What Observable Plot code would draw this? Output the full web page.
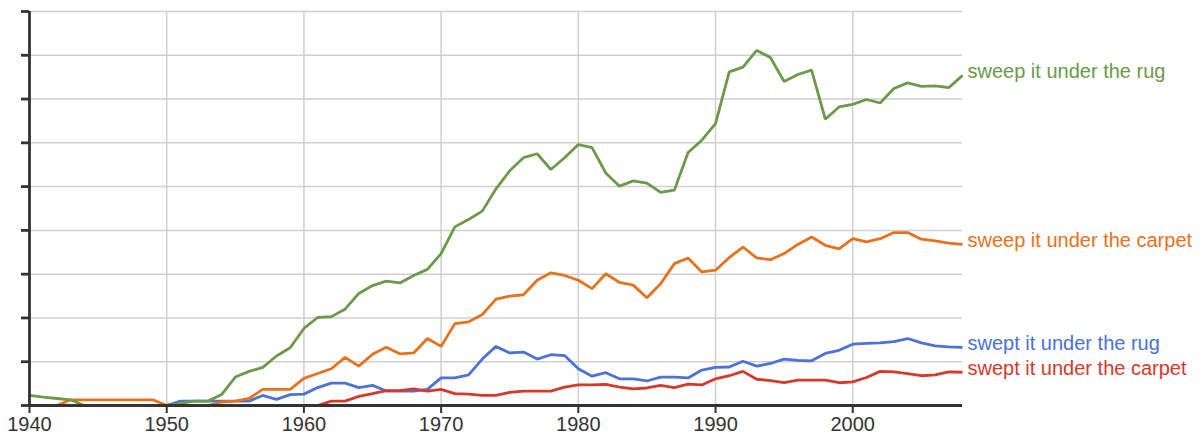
<!DOCTYPE html>
<html>
<head>
<meta charset="utf-8">
<script src="https://cdn.jsdelivr.net/npm/d3@7"></script>
<script src="https://cdn.jsdelivr.net/npm/@observablehq/plot@0.6"></script>
<style>
  html, body { margin: 0; padding: 0; background: #fff; }
  #chart svg { display: block; }
</style>
</head>
<body>
<div id="chart"></div>
<script>
const years = d3.range(1940, 2009);
const seriesNames = ["swept it under the rug", "swept it under the carpet", "sweep it under the carpet", "sweep it under the rug"];
const seriesColors = ["#4a72d8", "#d6382b", "#e8711c", "#6a9a4a"];
const xTicks = [1940, 1950, 1960, 1970, 1980, 1990, 2000];
const yTicks = [0, 1, 2, 3, 4, 5, 6, 7, 8, 9];

const sweepRug = [0.23,0.19,0.16,0.13,0,0,0,0,0,0,
  0,0.05,0.1,0.1,0.25,0.65,0.78,0.87,1.13,1.32,
  1.76,2.01,2.03,2.2,2.56,2.74,2.84,2.8,2.97,3.11,
  3.47,4.08,4.25,4.44,4.95,5.36,5.66,5.75,5.39,5.66,
  5.96,5.89,5.31,5.01,5.13,5.08,4.87,4.92,5.78,6.06,
  6.44,7.62,7.73,8.11,7.95,7.4,7.56,7.66,6.54,6.82,
  6.88,6.99,6.91,7.24,7.37,7.29,7.3,7.26,7.54];
const sweepCarpet = [0,0,0,0.13,0.13,0.13,0.13,0.13,0.13,0.13,
  0,0,0,0,0.08,0.1,0.16,0.37,0.37,0.37,
  0.62,0.73,0.84,1.1,0.9,1.17,1.33,1.18,1.2,1.53,
  1.35,1.87,1.91,2.08,2.43,2.5,2.53,2.86,3.03,2.97,
  2.86,2.67,3.01,2.81,2.75,2.46,2.78,3.24,3.37,3.05,
  3.09,3.38,3.62,3.37,3.33,3.47,3.68,3.85,3.66,3.58,
  3.81,3.74,3.81,3.95,3.95,3.8,3.76,3.71,3.68];
const sweptRug = [0,0,0,0,0,0,0,0,0,0,
  0,0.1,0.1,0.1,0.1,0.1,0.1,0.23,0.14,0.25,
  0.26,0.41,0.51,0.51,0.41,0.46,0.33,0.33,0.33,0.37,
  0.63,0.63,0.7,1.06,1.35,1.2,1.22,1.06,1.16,1.14,
  0.84,0.67,0.75,0.61,0.61,0.56,0.65,0.65,0.63,0.81,
  0.87,0.88,1.01,0.9,0.96,1.06,1.03,1.02,1.19,1.26,
  1.4,1.42,1.43,1.46,1.53,1.43,1.36,1.34,1.33];
const sweptCarpet = [0,0,0,0,0,0,0,0,0,0,
  0,0,0,0,0,0,0,0,0,0,
  0,0,0.1,0.1,0.21,0.27,0.34,0.34,0.38,0.33,
  0.37,0.27,0.26,0.23,0.23,0.3,0.33,0.33,0.33,0.42,
  0.47,0.47,0.48,0.42,0.38,0.4,0.46,0.41,0.49,0.47,
  0.61,0.68,0.78,0.6,0.57,0.52,0.58,0.58,0.58,0.52,
  0.54,0.64,0.78,0.77,0.73,0.68,0.7,0.77,0.76];

const seriesValues = [sweptRug, sweptCarpet, sweepCarpet, sweepRug];

const data = [];
seriesNames.forEach((name, i) => {
  years.forEach((yr, j) => data.push({series: name, year: yr, value: seriesValues[i][j]}));
});
const lastPoints = seriesNames.map((name, i) => ({series: name, year: years[years.length - 1], value: seriesValues[i][years.length - 1]}));

const chart = Plot.plot({
  width: 1200,
  height: 446,
  marginLeft: 29,
  marginRight: 238,
  marginTop: 11,
  marginBottom: 41,
  style: {fontFamily: "Arial, 'Liberation Sans', sans-serif", background: "#fff"},
  x: {domain: [1940, 2008]},
  y: {domain: [0, 9]},
  color: {domain: seriesNames, range: seriesColors},
  marks: [
    Plot.gridY(yTicks.slice(1), {stroke: "#cfcfcf", strokeOpacity: 1, strokeWidth: 1.5}),
    Plot.gridX(xTicks.slice(1), {stroke: "#cfcfcf", strokeOpacity: 1, strokeWidth: 1.5}),
    ...seriesNames.map(name => Plot.line(data.filter(d => d.series === name), {
      x: "year", y: "value", stroke: "series", strokeWidth: 2.8, strokeLinejoin: "miter", strokeLinecap: "butt"
    })),
    Plot.ruleY([0], {stroke: "#333", strokeWidth: 2.8}),
    Plot.ruleX([1940], {y1: 0, y2: 9, stroke: "#333", strokeWidth: 2.8}),
    Plot.axisY(yTicks, {tickSize: 8, tickFormat: () => "", stroke: "#333", strokeWidth: 2.8, label: null}),
    Plot.axisX(xTicks, {tickSize: 8, tickPadding: 3, tickFormat: d => String(d), stroke: "#333", strokeWidth: 2, fontSize: 20, fill: "#333", label: null}),
    Plot.text(lastPoints, {x: "year", y: "value", text: "series", fill: "series", textAnchor: "start", dx: 5, dy: -4, fontSize: 20})
  ]
});
document.getElementById("chart").appendChild(chart);
</script>
</body>
</html>
